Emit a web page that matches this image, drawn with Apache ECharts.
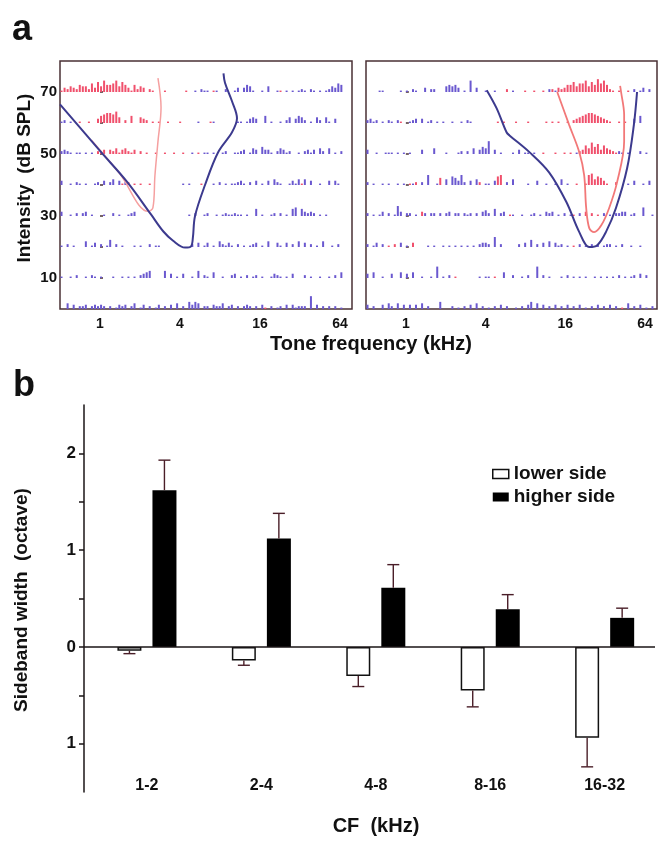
<!DOCTYPE html>
<html>
<head>
<meta charset="utf-8">
<script src="https://cdn.jsdelivr.net/npm/echarts@6/dist/echarts.min.js"></script>
<style>
html, body { margin: 0; padding: 0; background: #fff; }
#chart { width: 659px; height: 850px; }
</style>
</head>
<body>
<div id="chart"></div>
<script>
// ---------- panel a : response rasters ----------
const levels = [70, 60, 50, 40, 30, 20, 10, 0];   // dB SPL, top row first
const octMin = -1, octMax = 6.3;                   // 0.5 kHz .. ~79 kHz
// spike histograms, 96 bins per row
// '.' none, 1-9 = blue bar height, a-i = red bar height
const rastLeft = [
  "acbdcbed dbfcgdhe efhdgeca ebdc.ba. ..a..... .a..1.21 1.a1..2. .13.3541 ..1.4..1 a.1.1.12 1.21.1.1 24365...",
  "12.1..a. .a..cefg gfhd.b.e ..dcb.a. a..a...a .....1.. .a1..... ..11.134 3..5.1.. 1.24.354 2.1.42.4 1.3.....",
  "2321.11. 1.1.bac. cbdacdba c.b.a..a ..a..a.. a..1.a.1 1.1..12. .1123.14 3.5331.2 4312..1. 2313.42. 4.1.2...",
  "3..1.21. 1..12.3. 24.3a2b. a.a..a.. ........ 1.1...a. ..1.2.1. 11231.2. 3.1.3.42 1..1314a 4.3..1.. 3.31....",
  "3..1.2.2 3.1...1. .2.1..12 3....... ........ ..1.2..1 2..1.121 1211.1.. 5.1..12. 2.1.56.5 3232.1.1 ........",
  "1.2.1... 4.13.2.1 5.2.1... 1.1..2.1 1....... ...2.3.1 3.1.4213 1.2.1.12 3.1.4..3 1.3.2.4. 3.2.1.4. .1.2....",
  "1..1.2.. 1.21.1.. .1..1.1. 1.2345.. ..5.3.1. 3..1.5.2 1.4..1.. 23.1.2.1 2.1..132 1.1.3... 2.1..1.. 1.2.4...",
  "..4.3.22 3.23232. 2.1323.2 4.13.2.1 3.2.3.4. 2.5354.2 2.3224.2 3.2.232. 2.3a.2.1 2.3.3122 2.9.3.2. 2.2.1..."
];
const rastRight = [
  "....11.. ...1.1.2 1..3.22. ..45453. 1.8.3..1 ..1...b. 1...a..a ..a.2b1c bceegdff hdgeifhe ba.a..a. 2.13.2..",
  "2312.1.2 1.2a..12 3.3.12.1 .1..1..1 .21..... ...a.a.. .a...a.. ...a.a.a ..a.bcde fggfedcb a..a.a.. 3.5.....",
  "3..1..11 1.1.1.1. ..3...4. ..1...12 .2.4.354 9.3.1... 1.3.11.1 ..a...a. .a.a.1bc fdhegcfd cba21.1. ..2.1...",
  "2.1..1.1 ..1.1.a1 b.2.7..1 e.4.6537 2.3.4b.1 1.3fg.2. 4....1.. 3..1..1. 4.1..a.. aghdfeca ..b...1. 3..1.3..",
  "2.1.13.2 .173.22. 1.c2.22. 2.23.22. 212.2.34 2.5.23.a 1..1..12 .1.323.1 .2.1a.2. c.b.a.2. 1.2233.1 2..6..1.",
  "2.13.2.a .b.3.1.c ....1.1. .1.1.1.1 .1.1.233 2.7.2... ..2.3.5. 2.3.4.31 2.1.a.2. 1.2.2.12 2.1.2..1 ..1.....",
  "3.4..1.. 3..4.3.4 ..1..1.8 .1.2.a.. .....1.1 1.a..4.. 2..1.2.. 8.2.1... 1.2.1.1. 1..1.1.1 .1.2.1.1 2.3.2...",
  "3.2..3.4 2.4.3.3. 3.4.2... 5...2.1. 2.3.4.2. 1.2.3.2. .1.2.35. 4.3.2.3. 2.3.2.3. 1.2.3.2. 3.2.a.4. 2.3.1.2."
];
// tuning curves [kHz, dB SPL]
const tuneBlueLeft = [[0.5, 66], [1.0, 51], [1.6, 41], [2.42, 30.5], [3.0, 25], [3.55, 22], [4.36, 19.8],
  [4.84, 20.2], [5.0, 23], [5.19, 30], [6.17, 40], [7.73, 50.5], [9.85, 57], [10.74, 61.5], [9.85, 67],
  [8.72, 73], [8.5, 76]];
const tuneRedLeft = [[0.86, 54.5], [1.41, 43.6], [2.3, 31.5], [2.5, 32.6], [2.59, 43], [2.73, 54],
  [2.88, 65], [2.73, 74.5]];
const tuneBlueRight = [[4.08, 70.6], [4.84, 64.8], [5.76, 57], [6.06, 56], [8.57, 50.6], [12.1, 44],
  [16.3, 34.5], [20.4, 24.8], [24.3, 20], [27.9, 20.6], [32.4, 24.8], [38.6, 32.6], [46.9, 45.5],
  [52.7, 59.4], [55.7, 70]];
const tuneRedRight = [[13.9, 70], [17.1, 59.4], [20.4, 50.6], [22.2, 43.2], [23.0, 32.6], [24.3, 26],
  [26.4, 24.8], [29.9, 27], [34.3, 32.6], [39.4, 41], [44.5, 54], [44.5, 62.6], [42.2, 70], [41.5, 72]];
const freqTicks = [1, 4, 16, 64];

// ---------- panel b : sideband widths ----------
const cfBands = ['1-2', '2-4', '4-8', '8-16', '16-32'];
const lowerSide = [-0.04, -0.14, -0.30, -0.45, -0.94];
const lowerErr = [0.03, 0.05, 0.11, 0.17, 0.30];
const higherSide = [1.62, 1.12, 0.61, 0.39, 0.30];
const higherErr = [0.31, 0.26, 0.24, 0.15, 0.10];

const FONT = 'Liberation Sans, Arial, sans-serif';
const BLUE = '#6a58cf', RED = '#f0506c';
const NB = 96, SPIKE_DB = 0.46;

function parseRaster(rows) {
  const out = [];
  rows.forEach((row, r) => {
    const s = row.replace(/ /g, '');
    for (let i = 0; i < s.length && i < NB; i++) {
      const c = s[i];
      if (c === '.') continue;
      let h, red = 0;
      if (c >= '1' && c <= '9') h = +c;
      else { h = c.charCodeAt(0) - 96; red = 1; }
      const oct = octMin + (i + 0.5) * (octMax - octMin) / NB;
      out.push([oct, levels[r], h * SPIKE_DB, red]);
    }
  });
  return out;
}
const toOct = arr => arr.map(p => [Math.log2(p[0]), p[1]]);

function spikeItem(params, api) {
  const x = api.value(0), base = api.value(1), h = api.value(2);
  const p0 = api.coord([x, base]);
  const p1 = api.coord([x, base + h]);
  return {
    type: 'rect',
    shape: { x: p0[0] - 1, y: p1[1], width: 2, height: p0[1] - p1[1] },
    style: { fill: api.value(3) ? RED : BLUE }
  };
}

function errItem(params, api) {
  const i = api.value(0), v = api.value(1), e = api.value(2), side = api.value(3);
  const a = api.coord([i, v]);
  const b = api.coord([i, v + (v < 0 ? -e : e)]);
  const x = a[0] + side * 17.5;
  const st = { stroke: '#4a1e28', lineWidth: 1.4 };
  return {
    type: 'group',
    children: [
      { type: 'line', shape: { x1: x, y1: a[1], x2: x, y2: b[1] }, style: st },
      { type: 'line', shape: { x1: x - 6, y1: b[1], x2: x + 6, y2: b[1] }, style: st }
    ]
  };
}

const errData = [];
cfBands.forEach((c, i) => {
  errData.push([i, lowerSide[i], lowerErr[i], -1]);
  errData.push([i, higherSide[i], higherErr[i], 1]);
});

const chart = echarts.init(document.getElementById('chart'));

const rasterX = idx => ({
  type: 'value', gridIndex: idx, min: octMin, max: octMax,
  axisLine: { show: false }, axisTick: { show: false }, splitLine: { show: false },
  axisLabel: {
    customValues: freqTicks.map(f => Math.log2(f)), formatter: v => String(Math.pow(2, v)),
    margin: 8, fontSize: 14, fontWeight: 'bold', color: '#111', fontFamily: FONT
  }
});
const rasterY = (idx, labels) => ({
  type: 'value', gridIndex: idx, min: 0, max: 80, interval: 10,
  axisLine: { show: false }, splitLine: { show: false },
  axisTick: { show: true, inside: true, length: 3, customValues: [10, 20, 30, 40, 50, 60, 70],
    lineStyle: { color: '#4a3035', width: 1.5 } },
  axisLabel: {
    show: labels, customValues: [10, 30, 50, 70], margin: 3,
    fontSize: 15, fontWeight: 'bold', color: '#111', fontFamily: FONT
  }
});
const curve = (xi, data, color, w) => ({
  type: 'line', xAxisIndex: xi, yAxisIndex: xi, data: toOct(data), smooth: 0.35,
  showSymbol: false, lineStyle: { color: color, width: w }, z: 5, silent: true
});

const titleText = (txt, x, y, size, rot) => ({
  type: 'text', x: x, y: y, rotation: rot || 0,
  style: { text: txt, fontSize: size, fontWeight: 'bold', fill: '#111', fontFamily: FONT,
    textAlign: 'center', textVerticalAlign: 'middle' }
});

chart.setOption({
  animation: false,
  backgroundColor: '#fff',
  grid: [
    { left: 60, top: 61, width: 292, height: 248, show: true, borderColor: '#4a3035', borderWidth: 1.5 },
    { left: 366, top: 61, width: 291, height: 248, show: true, borderColor: '#4a3035', borderWidth: 1.5 },
    { left: 84, right: 4, top: 405, height: 387 }
  ],
  xAxis: [
    rasterX(0), rasterX(1),
    {
      type: 'value', gridIndex: 2, min: -0.55, max: 4.44,
      axisLine: { show: false }, axisTick: { show: false }, splitLine: { show: false },
      axisLabel: { customValues: [0, 1, 2, 3, 4], formatter: v => cfBands[v], margin: -14,
        fontSize: 16, fontWeight: 'bold', color: '#111', fontFamily: FONT }
    }
  ],
  yAxis: [
    rasterY(0, true), rasterY(1, false),
    {
      type: 'value', gridIndex: 2, min: -1.5, max: 2.5, interval: 0.5,
      axisLine: { show: true, onZero: false, lineStyle: { color: '#1a1416', width: 1.5 } },
      splitLine: { show: false },
      axisTick: { show: true, length: 5, customValues: [-1, -0.5, 0, 0.5, 1, 1.5, 2],
        lineStyle: { color: '#1a1416', width: 1.5 } },
      axisLabel: { customValues: [-1, 0, 1, 2], formatter: v => String(Math.abs(v)), margin: 8,
        fontSize: 17, fontWeight: 'bold', color: '#111', fontFamily: FONT }
    }
  ],
  legend: {
    orient: 'vertical', left: 487, top: 459, itemWidth: 16, itemHeight: 9, itemGap: 3,
    textStyle: { fontSize: 19, fontWeight: 'bold', color: '#111', fontFamily: FONT, lineHeight: 20 },
    data: [
      { name: 'lower side', icon: 'rect', itemStyle: { color: '#fff', borderColor: '#111', borderWidth: 1.5 } },
      { name: 'higher side', icon: 'rect', itemStyle: { color: '#000' } }
    ]
  },
  graphic: [
    titleText('a', 22, 30, 36),
    titleText('b', 24, 386, 36),
    titleText('Intensity  (dB SPL)', 25, 178, 19, Math.PI / 2),
    titleText('Tone frequency (kHz)', 371, 344, 20),
    titleText('Sideband width  (octave)', 22, 600, 19, Math.PI / 2),
    titleText('CF  (kHz)', 376, 826, 20)
  ],
  series: [
    { type: 'custom', xAxisIndex: 0, yAxisIndex: 0, renderItem: spikeItem, data: parseRaster(rastLeft), silent: true },
    { type: 'custom', xAxisIndex: 1, yAxisIndex: 1, renderItem: spikeItem, data: parseRaster(rastRight), silent: true },
    curve(0, tuneRedLeft, '#f5a0a0', 1.5),
    curve(0, tuneBlueLeft, '#3c3a8e', 2),
    curve(1, tuneRedRight, '#f27878', 1.8),
    curve(1, tuneBlueRight, '#3c3a8e', 2),
    {
      name: 'lower side', type: 'bar', xAxisIndex: 2, yAxisIndex: 2, barWidth: 24, barGap: '46%',
      data: lowerSide.map((v, i) => [i, v]),
      itemStyle: { color: '#fff', borderColor: '#111', borderWidth: 1.5 }
    },
    {
      name: 'higher side', type: 'bar', xAxisIndex: 2, yAxisIndex: 2, barWidth: 24, barGap: '46%',
      data: higherSide.map((v, i) => [i, v]),
      itemStyle: { color: '#000' },
      markLine: {
        silent: true, symbol: 'none', label: { show: false },
        lineStyle: { color: '#1a1416', width: 1.5, type: 'solid' },
        data: [{ yAxis: 0 }]
      }
    },
    { type: 'custom', xAxisIndex: 2, yAxisIndex: 2, renderItem: errItem, data: errData, z: 3, silent: true }
  ]
});
</script>
</body>
</html>
